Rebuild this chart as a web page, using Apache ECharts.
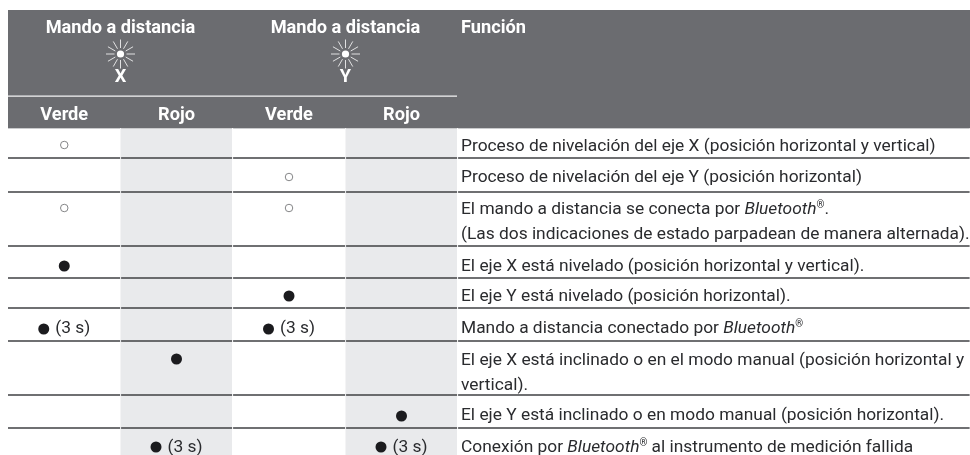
<!DOCTYPE html>
<html>
<head>
<meta charset="utf-8">
<style>
html,body{margin:0;padding:0;background:#fff}
#main{width:970px;height:455px}
</style>
<script src="https://cdn.jsdelivr.net/npm/echarts@6/dist/echarts.min.js"></script>
</head>
<body>
<div id="main"></div>
<script>
// contenido de la tabla
var grupos = ['Mando a distancia', 'Mando a distancia']
var ejes = ['X', 'Y']
var columnas = ['Verde', 'Rojo', 'Verde', 'Rojo']
var tituloFuncion = 'Función'
// estados: p = parpadea, e = encendido, t = encendido (3 s)
var verdeX = ['p', '', 'p', 'e', '', 't', '', '', '']
var rojoX = ['', '', '', '', '', '', 'e', '', 't']
var verdeY = ['', 'p', 'p', '', 'e', 't', '', '', '']
var rojoY = ['', '', '', '', '', '', '', 'e', 't']
var tiempo = '(3 s)'
var funciones = [
    ['Proceso de nivelación del eje X (posición horizontal y vertical)'],
    ['Proceso de nivelación del eje Y (posición horizontal)'],
    ['El mando a distancia se conecta por {i|Bluetooth}{r|®}.', '(Las dos indicaciones de estado parpadean de manera alternada).'],
    ['El eje X está nivelado (posición horizontal y vertical).'],
    ['El eje Y está nivelado (posición horizontal).'],
    ['Mando a distancia conectado por {i|Bluetooth}{r|®}'],
    ['El eje X está inclinado o en el modo manual (posición horizontal y', 'vertical).'],
    ['El eje Y está inclinado o en modo manual (posición horizontal).'],
    ['Conexión por {i|Bluetooth}{r|®} al instrumento de medición fallida']
]

// maqueta en pixeles
var bordesX = [8, 120.5, 232.5, 345.5, 457.5, 970]
var bordesY = [128, 158, 192, 246, 278, 308, 341, 395, 428, 455]
var marcaY = [145, 177, 208, 266, 296, 329, 359, 416, 447]
var textoY = [147, 178, 210, 267, 297, 329, 361, 416, 448]
var segundaLinea = 25
var colorCabecera = '#6b6c70'
var colorGris = '#e9eaec'
var colorLinea = '#3f4043'
var colorTexto = '#2a2b2e'
var fuente = 'Roboto'

var chart = echarts.init(document.getElementById('main'))
var estados = [verdeX, rojoX, verdeY, rojoY]

function centro(c) {
    return (bordesX[c] + bordesX[c + 1]) / 2
}

// fondos y lineas
var rects = []
var rectColor = []
function addRect(x0, y0, x1, y1, color) {
    rects.push([x0, y0, x1, y1])
    rectColor.push(color)
}
addRect(8, 10, 970, 128, colorCabecera)
addRect(bordesX[1], 128, bordesX[2] - 0.5, 455, colorGris)
addRect(bordesX[3], 128, bordesX[4] - 0.5, 455, colorGris)
// linea blanca bajo los grupos
addRect(8, 95.5, 457, 96.8, '#f4f4f5')
for (var i = 0; i < 5; i++) {
    addRect(bordesX[i] + (i ? 0.6 : 0), 128, bordesX[i + 1] - 0.4, 129, '#c9cacc')
}
for (var f = 1; f < 9; f++) {
    for (var c = 0; c < 5; c++) {
        addRect(bordesX[c] + (c ? 0.6 : 0), bordesY[f] - 0.7, bordesX[c + 1] - 0.4, bordesY[f] + 0.7, colorLinea)
    }
}

// marcas
var puntos = [], huecos = []
var textos = []
estados.forEach(function (col, c) {
    col.forEach(function (v, f) {
        if (v == 'p') huecos.push([centro(c), marcaY[f]])
        if (v == 'e') puntos.push([centro(c), marcaY[f]])
        if (v == 't') {
            puntos.push([centro(c) - 20.5, marcaY[f]])
            textos.push({ x: centro(c) - 9, y: textoY[f], text: tiempo, tipo: 'cuerpo' })
        }
    })
})

// textos de cabecera
grupos.forEach(function (g, i) {
    textos.push({ x: bordesX[i * 2 + 1], y: 28, text: g, tipo: 'cab', align: 'center' })
    textos.push({ x: bordesX[i * 2 + 1], y: 77, text: ejes[i], tipo: 'cab', align: 'center' })
})
columnas.forEach(function (n, c) {
    textos.push({ x: centro(c), y: 115, text: n, tipo: 'cab', align: 'center' })
})
textos.push({ x: 461, y: 28, text: tituloFuncion, tipo: 'cab' })

funciones.forEach(function (lineas, f) {
    lineas.forEach(function (t, l) {
        textos.push({ x: 461, y: textoY[f] + l * segundaLinea, text: t, tipo: 'cuerpo' })
    })
})

// rayos de los dos soles de la cabecera
var soles = [[bordesX[1], 54], [bordesX[3], 54]]
var numRayos = 12

var option = {
    animation: false,
    backgroundColor: '#fff',
    grid: { left: 0, right: 0, top: 0, bottom: 0 },
    xAxis: { type: 'value', min: 0, max: 970, show: false },
    yAxis: { type: 'value', min: 0, max: 455, inverse: true, show: false },
    series: [
        {
            type: 'custom',
            silent: true,
            z: 1,
            data: rects,
            renderItem: function (params, api) {
                var a = api.coord([api.value(0), api.value(1)])
                var b = api.coord([api.value(2), api.value(3)])
                return {
                    type: 'rect',
                    shape: { x: a[0], y: a[1], width: b[0] - a[0], height: b[1] - a[1] },
                    style: { fill: rectColor[params.dataIndex] }
                }
            }
        },
        {
            type: 'custom',
            silent: true,
            z: 3,
            data: soles,
            renderItem: function (params, api) {
                var p = api.coord([api.value(0), api.value(1)])
                var hijos = [{
                    type: 'circle',
                    shape: { cx: p[0], cy: p[1], r: 3.6 },
                    style: { fill: '#fff' }
                }]
                for (var k = 0; k < numRayos; k++) {
                    var ang = k * Math.PI * 2 / numRayos
                    hijos.push({
                        type: 'line',
                        shape: {
                            x1: p[0] + Math.cos(ang) * 6,
                            y1: p[1] + Math.sin(ang) * 6,
                            x2: p[0] + Math.cos(ang) * 14.5,
                            y2: p[1] + Math.sin(ang) * 14.5
                        },
                        style: { stroke: '#fff', lineWidth: 0.8 }
                    })
                }
                return { type: 'group', children: hijos }
            }
        },
        {
            type: 'scatter',
            silent: true,
            z: 4,
            symbol: 'circle',
            symbolSize: 11,
            itemStyle: { color: '#1b1b1e', opacity: 1 },
            data: puntos
        },
        {
            type: 'scatter',
            silent: true,
            z: 4,
            symbol: 'circle',
            symbolSize: 7.5,
            itemStyle: { color: '#fff', borderColor: '#77787b', borderWidth: 0.9, opacity: 1 },
            data: huecos
        },
        {
            type: 'custom',
            silent: true,
            z: 5,
            data: textos.map(function (t) { return [t.x, t.y] }),
            renderItem: function (params, api) {
                var t = textos[params.dataIndex]
                var p = api.coord([api.value(0), api.value(1)])
                var cab = t.tipo == 'cab'
                var tam = cab ? 18.2 : 17.35
                return {
                    type: 'text',
                    x: p[0],
                    y: p[1],
                    style: {
                        text: t.text,
                        align: t.align || 'left',
                        verticalAlign: 'middle',
                        fontFamily: fuente,
                        fontWeight: cab ? 'bold' : 'normal',
                        fontSize: tam,
                        fill: cab ? '#fff' : colorTexto,
                        rich: {
                            i: { fontFamily: fuente, fontStyle: 'italic', fontSize: tam, fill: colorTexto },
                            r: { fontFamily: fuente, fontSize: 10, fill: colorTexto, verticalAlign: 'top', lineHeight: 19 }
                        }
                    }
                }
            }
        }
    ]
}
chart.setOption(option)
</script>
</body>
</html>
